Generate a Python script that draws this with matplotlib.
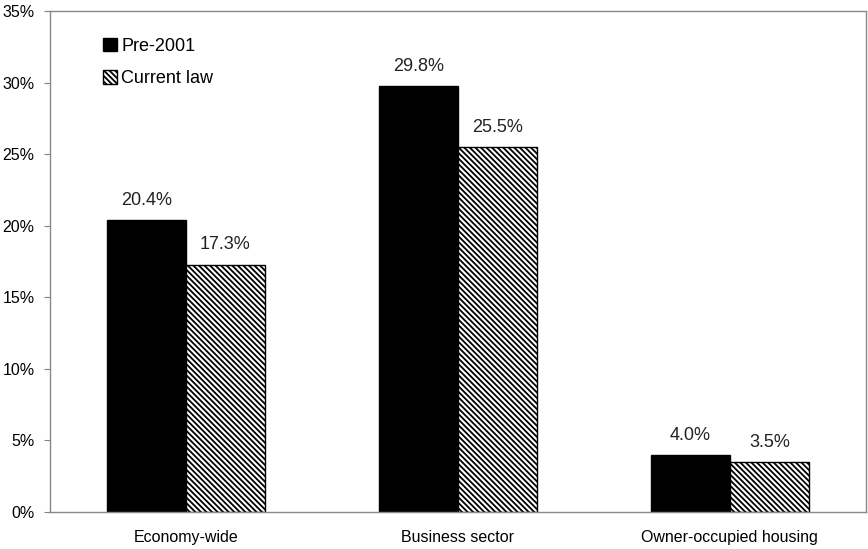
import matplotlib.pyplot as plt
import numpy as np

plt.rcParams['font.family'] = ['Liberation Sans', 'DejaVu Sans']
plt.rcParams['hatch.linewidth'] = 1.3

categories = ["Economy-wide", "Business sector", "Owner-occupied housing"]
pre_2001 = [20.4, 29.8, 4.0]
current_law = [17.3, 25.5, 3.5]
series_names = ["Pre-2001", "Current law"]
y_ticks = [0, 5, 10, 15, 20, 25, 30, 35]

fig = plt.figure(figsize=(8.68, 5.49), dpi=100)
ax = fig.add_axes([0.0576, 0.0674, 0.94, 0.912])

x = np.arange(len(categories)) + 0.5
w = 0.29
b1 = ax.bar(x - w / 2, pre_2001, w, color='black', edgecolor='black', linewidth=1,
            label=series_names[0])
b2 = ax.bar(x + w / 2, current_law, w, color='white', edgecolor='black', hatch='\\' * 6,
            linewidth=1, label=series_names[1])

for bars, vals in ((b1, pre_2001), (b2, current_law)):
    for r, v in zip(bars, vals):
        ax.annotate(f"{v:.1f}%", (r.get_x() + r.get_width() / 2, v),
                    xytext=(0, 8), textcoords='offset points',
                    ha='center', va='bottom', fontsize=13, color='#222222')

ax.set_xlim(0, 3)
ax.set_ylim(0, 35)
ax.set_yticks(y_ticks)
ax.set_yticklabels([f"{t}%" for t in y_ticks], fontsize=11.5)
ax.set_xticks(x)
ax.set_xticklabels(categories, fontsize=11.5)
ax.tick_params(axis='x', length=0, pad=13)
ax.tick_params(axis='y', length=4, direction='out', color='gray', pad=7)
for s in ax.spines.values():
    s.set_color('#888888')
    s.set_linewidth(1)

ax.legend(loc='upper left', bbox_to_anchor=(0.045, 0.98), frameon=False, fontsize=13,
          handlelength=0.8, handleheight=0.8, handletextpad=0.2, labelspacing=0.85)

fig.savefig("out.png", dpi=100)
